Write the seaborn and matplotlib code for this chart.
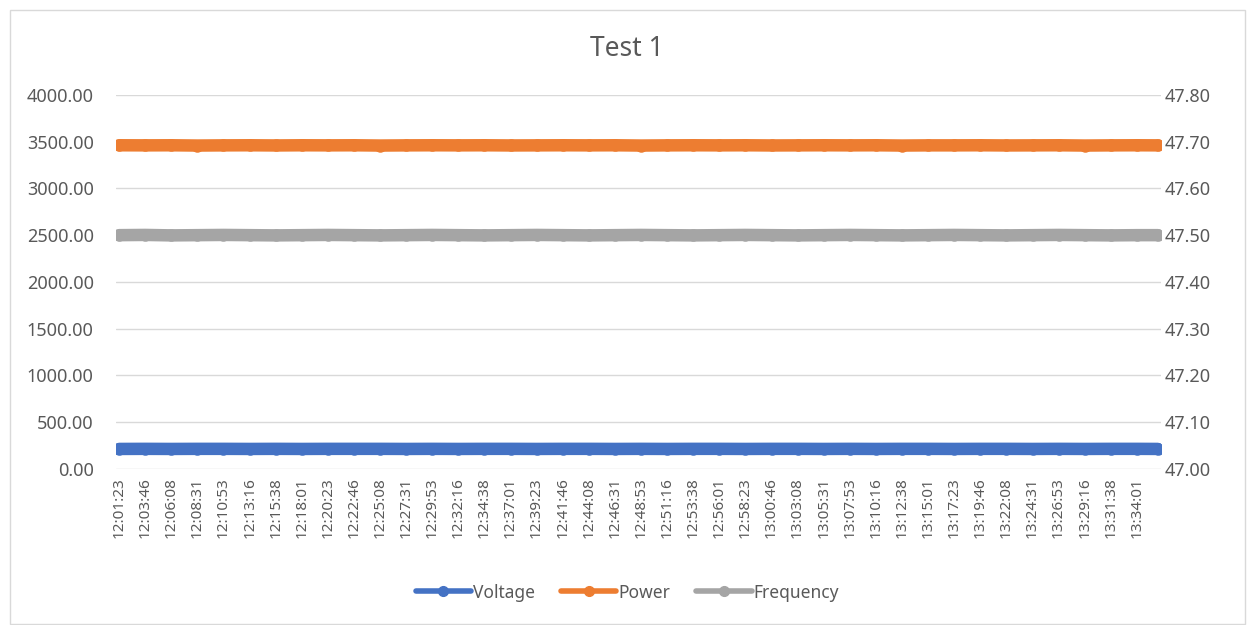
import pandas as pd
import seaborn as sns
import matplotlib
matplotlib.use('Agg')
import matplotlib.pyplot as plt
from matplotlib.patches import Rectangle
from matplotlib.lines import Line2D

# sample times (the 40 labelled categories + the last sample)
times = ["12:01:23", "12:03:46", "12:06:08", "12:08:31", "12:10:53", "12:13:16", "12:15:38",
         "12:18:01", "12:20:23", "12:22:46", "12:25:08", "12:27:31", "12:29:53", "12:32:16",
         "12:34:38", "12:37:01", "12:39:23", "12:41:46", "12:44:08", "12:46:31", "12:48:53",
         "12:51:16", "12:53:38", "12:56:01", "12:58:23", "13:00:46", "13:03:08", "13:05:31",
         "13:07:53", "13:10:16", "13:12:38", "13:15:01", "13:17:23", "13:19:46", "13:22:08",
         "13:24:31", "13:26:53", "13:29:16", "13:31:38", "13:34:01", "13:35:55"]
tick_labels = times[:40]

voltage = [212, 213, 212, 213, 213, 212, 213, 212, 213, 213, 213, 212, 213, 212, 213, 213, 212,
           213, 213, 212, 213, 212, 213, 213, 212, 213, 213, 212, 213, 212, 213, 213, 212, 213,
           213, 212, 213, 212, 213, 213, 212]
power = [3462, 3461, 3462, 3459, 3461, 3462, 3460, 3462, 3461, 3462, 3459, 3461, 3462, 3461,
         3462, 3460, 3461, 3462, 3461, 3462, 3459, 3461, 3462, 3461, 3462, 3460, 3461, 3462,
         3461, 3462, 3459, 3461, 3461, 3462, 3460, 3461, 3462, 3459, 3461, 3462, 3461]
frequency = [47.500, 47.5005, 47.4995, 47.500, 47.5005, 47.500, 47.4995, 47.500, 47.5005,
             47.500, 47.4995, 47.500, 47.5005, 47.500, 47.4995, 47.500, 47.5005, 47.500,
             47.4995, 47.500, 47.5005, 47.500, 47.4995, 47.500, 47.5005, 47.500, 47.4995,
             47.500, 47.5005, 47.500, 47.4995, 47.500, 47.5005, 47.500, 47.4995, 47.500,
             47.5005, 47.500, 47.4995, 47.500, 47.500]

df = pd.DataFrame({"time": pd.to_datetime(times, format="%H:%M:%S"),
                   "Voltage": voltage, "Power": power, "Frequency": frequency})

sns.set_style("white")
plt.rcParams['font.family'] = ['Noto Sans', 'DejaVu Sans']

BLUE = "#4472C4"
ORANGE = "#ED7D31"
GRAY = "#A5A5A5"
TXT = "#595959"

fig = plt.figure(figsize=(12.47, 6.25), dpi=100)
ax = fig.add_axes([0.093, 0.25, 0.838, 0.598])
ax2 = ax.twinx()

sns.lineplot(data=df, x="time", y="Voltage", ax=ax, color=BLUE, lw=9,
             marker="o", markersize=9, markeredgewidth=0, solid_capstyle="round")
sns.lineplot(data=df, x="time", y="Power", ax=ax, color=ORANGE, lw=9,
             marker="o", markersize=9, markeredgewidth=0, solid_capstyle="round")
sns.lineplot(data=df, x="time", y="Frequency", ax=ax2, color=GRAY, lw=9,
             marker="o", markersize=9, markeredgewidth=0, solid_capstyle="round")

ax.set_ylim(0, 4000)
ax.set_yticks(range(0, 4001, 500))
ax.set_yticklabels([f"{v:.2f}" for v in range(0, 4001, 500)])
ax2.set_ylim(47.0, 47.8)
fticks = [47.0 + i * 0.1 for i in range(9)]
ax2.set_yticks(fticks)
ax2.set_yticklabels([f"{v:.2f}" for v in fticks])

span = df["time"].iloc[-1] - df["time"].iloc[0]
ax.set_xlim(df["time"].iloc[0] - span * 0.003, df["time"].iloc[-1] + span * 0.003)
ax.set_xticks(pd.to_datetime(tick_labels, format="%H:%M:%S"))
ax.set_xticklabels(tick_labels, rotation=90)

ax.grid(axis="y", color="#D9D9D9", lw=1)
ax.set_axisbelow(True)
ax2.grid(False)
for a in (ax, ax2):
    for s in a.spines.values():
        s.set_visible(False)
    a.set_xlabel("")
    a.set_ylabel("")
    a.tick_params(length=0, colors=TXT, labelsize=13)
ax.tick_params(axis="x", labelsize=11, pad=6)
ax.tick_params(axis="y", pad=16)
ax2.tick_params(axis="y", pad=3)

fig.text(0.503, 0.922, "Test 1", fontsize=19, color=TXT, ha="center", va="center")

handles = [Line2D([], [], color=c, lw=4, marker="o", markersize=7) for c in (BLUE, ORANGE, GRAY)]
fig.legend(handles, ["Voltage", "Power", "Frequency"], loc="center", bbox_to_anchor=(0.503, 0.052),
           ncol=3, frameon=False, fontsize=12.5, labelcolor=TXT, handlelength=3.2,
           handletextpad=0.1, columnspacing=1.5, numpoints=1)

fig.patches.append(Rectangle((0.008, 0.002), 0.99, 0.982, transform=fig.transFigure,
                             fill=False, edgecolor="#D9D9D9", lw=1))

fig.savefig("out.png", dpi=100)
